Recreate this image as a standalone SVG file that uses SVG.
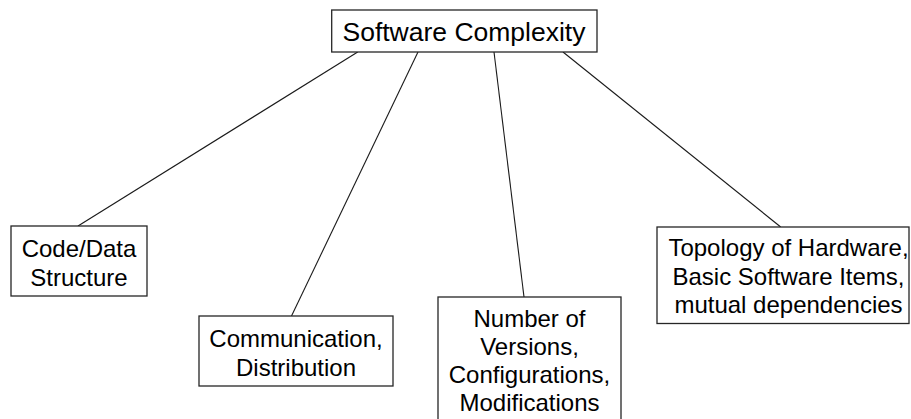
<svg xmlns="http://www.w3.org/2000/svg" width="911" height="419" viewBox="0 0 911 419">
  <style>
    .box { fill: #ffffff; stroke: #262626; stroke-width: 1.3; }
    .lbl { font-family: "Liberation Sans", Arial, sans-serif; font-size: 24px; fill: #000000; text-anchor: middle; }
    .title { font-size: 26.5px; }
    .link { stroke: #1a1a1a; stroke-width: 1.1; fill: none; }
  </style>
  <rect width="911" height="419" fill="#ffffff"/>

  <!-- connectors from the root to each factor -->
  <g id="connectors">
    <line class="link" x1="357.7" y1="52" x2="78" y2="226"/>
    <line class="link" x1="418" y1="52" x2="291.5" y2="316"/>
    <line class="link" x1="494" y1="52" x2="524" y2="297"/>
    <line class="link" x1="563" y1="52" x2="780.7" y2="227"/>
  </g>

  <g id="software-complexity">
    <rect class="box" x="331.7" y="10" width="265.3" height="42"/>
    <text class="lbl title" x="464" y="40.5">Software Complexity</text>
  </g>

  <g id="code-data-structure">
    <rect class="box" x="11" y="226" width="136" height="70"/>
    <text class="lbl" x="79" y="257">Code/Data</text>
    <text class="lbl" x="79" y="286">Structure</text>
  </g>

  <g id="communication-distribution">
    <rect class="box" x="199" y="316" width="194" height="70"/>
    <text class="lbl" x="296" y="347">Communication,</text>
    <text class="lbl" x="296" y="376">Distribution</text>
  </g>

  <g id="versions-configurations">
    <rect class="box" x="438" y="297" width="183" height="140"/>
    <text class="lbl" x="529.5" y="327">Number of</text>
    <text class="lbl" x="529.5" y="355">Versions,</text>
    <text class="lbl" x="529.5" y="383">Configurations,</text>
    <text class="lbl" x="529.5" y="410.5">Modifications</text>
  </g>

  <g id="topology-dependencies">
    <rect class="box" x="657" y="227" width="252" height="96.5"/>
    <text class="lbl" x="788.5" y="256">Topology of Hardware,</text>
    <text class="lbl" x="788.5" y="284.5">Basic Software Items,</text>
    <text class="lbl" x="788.5" y="312.5">mutual dependencies</text>
  </g>
</svg>
